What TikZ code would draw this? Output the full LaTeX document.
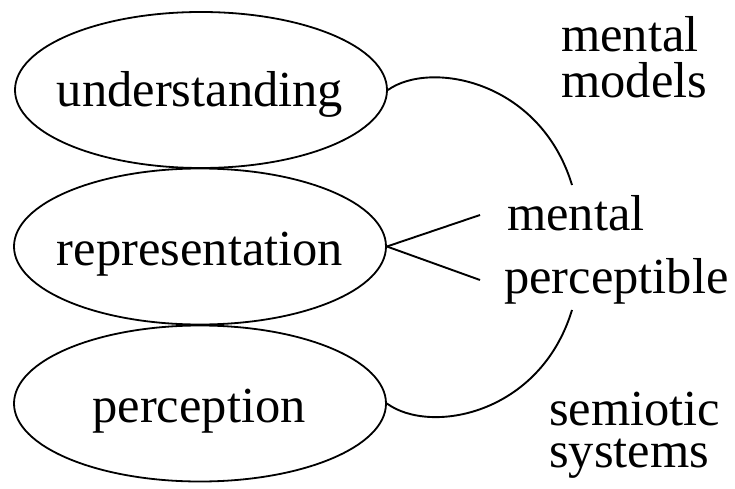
\documentclass[tikz,border=0pt]{standalone}
\usepackage{fontspec}
\setmainfont{Liberation Serif}
\usetikzlibrary{shapes.geometric}
\begin{document}
\begin{tikzpicture}[x=1pt,y=-1pt,
  oval/.style={draw,line width=1.8pt,ellipse,inner sep=0pt,minimum width=372pt,minimum height=156pt},
  lbl/.style={inner sep=0pt,font=\fontsize{50.5}{55}\selectfont},
  conn/.style={line width=1.9pt}]
\useasboundingbox (0,0) rectangle (735,489);
\node[oval] (u) at (201,90) {};
\node[oval] (r) at (200,246.5) {};
\node[oval] (p) at (200,403.5) {};
\node[lbl,anchor=base] (ut) at (200,107) {understanding};
\node[lbl,anchor=base] (rt) at (200,265) {representation};
\node[lbl,anchor=base] (pt) at (199,422) {perception};
\node[lbl,anchor=base west] (mm1) at (561,52) {mental};
\node[lbl,anchor=base west] (mm2) at (561,98) {models};
\node[lbl,anchor=base west] (me) at (507,230) {mental};
\node[lbl,anchor=base west] (pe) at (504,293) {perceptible};
\node[lbl,anchor=base west] (ss1) at (549,425) {semiotic};
\node[lbl,anchor=base west] (ss2) at (549,467) {systems};
\coordinate (a1) at (572,185);
\coordinate (a2) at (572,310);
\coordinate (l1) at (480,215);
\coordinate (l2) at (480,280);
\draw[conn] (u.east) .. controls (430,60) and (540,80) .. (a1);
\draw[conn] (p.east) .. controls (430,435) and (540,415) .. (a2);
\draw[conn] (r.east) -- (l1);
\draw[conn] (r.east) -- (l2);
\end{tikzpicture}
\end{document}
